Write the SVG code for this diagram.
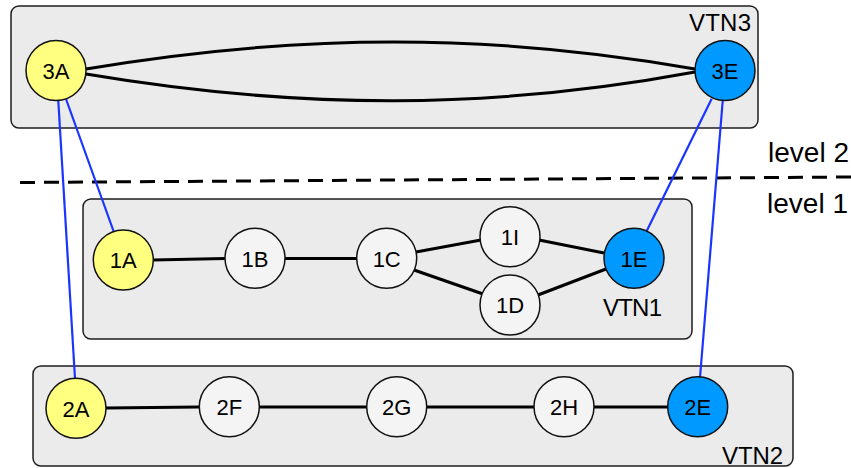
<svg xmlns="http://www.w3.org/2000/svg" width="851" height="468" viewBox="0 0 851 468">
  <style>
    .box { fill: #ebebeb; stroke: #1e1e1e; stroke-width: 1.5; }
    .node { stroke: #111; stroke-width: 1.5; }
    .plain { fill: #f4f4f4; }
    .yellow { fill: #ffff80; }
    .blue { fill: #0099ff; }
    .edge { fill: none; stroke: #000; stroke-width: 3; }
    .link { fill: none; stroke: #1a35ff; stroke-width: 2.2; }
    .lbl { font-family: "Liberation Sans", Arial, sans-serif; font-size: 22px; fill: #000; text-anchor: middle; }
    .vtn { font-family: "Liberation Sans", Arial, sans-serif; font-size: 24px; fill: #000; }
    .level { font-family: "Liberation Sans", Arial, sans-serif; font-size: 28px; fill: #000; }
  </style>

  <!-- network containers -->
  <g id="vtn3">
    <rect class="box" x="11" y="6" width="747" height="122" rx="8"/>
    <text class="vtn" x="751" y="31" text-anchor="end" textLength="62">VTN3</text>
  </g>
  <g id="vtn1">
    <rect class="box" x="83" y="199" width="609" height="140" rx="8"/>
    <text class="vtn" x="662" y="316" text-anchor="end" textLength="59">VTN1</text>
  </g>
  <g id="vtn2">
    <rect class="box" x="33" y="366" width="760" height="100" rx="8"/>
    <text class="vtn" x="783" y="464" text-anchor="end" textLength="61">VTN2</text>
  </g>

  <!-- level separator -->
  <g id="levels">
    <line x1="20" y1="182.5" x2="851" y2="177" stroke="#000" stroke-width="3" stroke-dasharray="15 9"/>
    <text class="level" x="849" y="162" text-anchor="end">level 2</text>
    <text class="level" x="848" y="213" text-anchor="end">level 1</text>
  </g>

  <!-- connectors -->
  <g id="connectors">
    <path class="edge" d="M86,69 C300,33 490,33 695,69"/>
    <path class="edge" d="M86,74 C300,110 490,110 695,72"/>
    <line class="edge" x1="153" y1="260" x2="225" y2="258.5"/>
    <line class="edge" x1="285" y1="258.5" x2="357" y2="258.5"/>
    <line class="edge" x1="416" y1="252" x2="481" y2="240"/>
    <line class="edge" x1="414" y1="270" x2="483" y2="294"/>
    <line class="edge" x1="539" y1="240" x2="604" y2="253"/>
    <line class="edge" x1="538" y1="295" x2="606" y2="269"/>
    <line class="edge" x1="106" y1="408" x2="199" y2="407"/>
    <line class="edge" x1="259" y1="407" x2="367" y2="407"/>
    <line class="edge" x1="427" y1="407" x2="534" y2="407"/>
    <line class="edge" x1="594" y1="407" x2="668" y2="407"/>
    <line class="link" x1="58.3" y1="101" x2="75" y2="378.5"/>
    <line class="link" x1="66" y1="99" x2="113.5" y2="231"/>
    <line class="link" x1="711.7" y1="98.7" x2="646.7" y2="231"/>
    <line class="link" x1="722.7" y1="101" x2="700" y2="377.5"/>
  </g>

  <!-- nodes -->
  <g id="n3A"><circle class="node yellow" cx="56" cy="70.5" r="30"/><text class="lbl" x="56" y="79">3A</text></g>
  <g id="n3E"><circle class="node blue" cx="725" cy="70.5" r="30"/><text class="lbl" x="725" y="79">3E</text></g>
  <g id="n1A"><circle class="node yellow" cx="123.3" cy="260" r="30"/><text class="lbl" x="123.3" y="268">1A</text></g>
  <g id="n1B"><circle class="node plain" cx="255" cy="258.3" r="30"/><text class="lbl" x="255" y="266.5">1B</text></g>
  <g id="n1C"><circle class="node plain" cx="386.7" cy="258.3" r="30"/><text class="lbl" x="386.7" y="266.5">1C</text></g>
  <g id="n1I"><circle class="node plain" cx="510" cy="236.7" r="30"/><text class="lbl" x="510" y="245">1I</text></g>
  <g id="n1D"><circle class="node plain" cx="510" cy="305" r="30"/><text class="lbl" x="510" y="313">1D</text></g>
  <g id="n1E"><circle class="node blue" cx="634" cy="258.3" r="30"/><text class="lbl" x="634" y="266.5">1E</text></g>
  <g id="n2A"><circle class="node yellow" cx="76" cy="408.3" r="30"/><text class="lbl" x="76" y="416.5">2A</text></g>
  <g id="n2F"><circle class="node plain" cx="229.3" cy="406.7" r="30"/><text class="lbl" x="229.3" y="415">2F</text></g>
  <g id="n2G"><circle class="node plain" cx="396.7" cy="406.7" r="30"/><text class="lbl" x="396.7" y="415">2G</text></g>
  <g id="n2H"><circle class="node plain" cx="564" cy="406.7" r="30"/><text class="lbl" x="564" y="415">2H</text></g>
  <g id="n2E"><circle class="node blue" cx="697.7" cy="406.7" r="30"/><text class="lbl" x="697.7" y="415">2E</text></g>
</svg>
